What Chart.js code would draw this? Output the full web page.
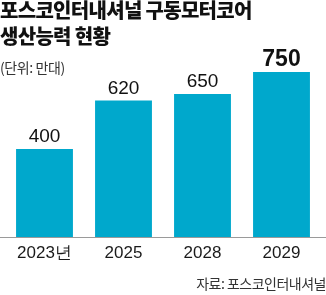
<!DOCTYPE html>
<html>
<head>
<meta charset="utf-8">
<script src="https://cdn.jsdelivr.net/npm/chart.js@4"></script>
<style>
  html, body { margin: 0; padding: 0; background: #fff; }
  #wrap { position: relative; width: 326px; height: 295px; overflow: hidden; }
  #chart { position: absolute; left: 0; top: 0; }
  .txt { position: absolute; font-family: "Noto Sans CJK KR", sans-serif; color: #1a1a1a; white-space: nowrap; }
  #title { left: 0; top: -3px; font-size: 20px; font-weight: 900; line-height: 26px; letter-spacing: -0.7px; color: #111; }
  #unit { left: 0; top: 58px; font-size: 14px; line-height: 18px; letter-spacing: -0.4px; color: #333; }
  #source { right: 0; top: 274px; font-size: 14px; line-height: 18px; letter-spacing: -0.5px; color: #333; }
</style>
</head>
<body>
<div id="wrap">
  <canvas id="chart" width="326" height="295"></canvas>
  <div class="txt" id="title">포스코인터내셔널 구동모터코어<br>생산능력 현황</div>
  <div class="txt" id="unit">(단위: 만대)</div>
  <div class="txt" id="source">자료: 포스코인터내셔널</div>
</div>
<script>
const years = ["2023년", "2025", "2028", "2029"];
const capacity = [400, 620, 650, 750];
const highlightIndex = 3;

const barColor = "#00a8cc";

// value labels above each bar, last one bold and larger
const valueLabels = {
    id: "valueLabels",
    afterDatasetsDraw(chart) {
        const ctx = chart.ctx;
        const meta = chart.getDatasetMeta(0);
        ctx.save();
        ctx.textAlign = "center";
        ctx.textBaseline = "alphabetic";
        ctx.fillStyle = "#111";
        meta.data.forEach((bar, i) => {
            if (i === highlightIndex) {
                ctx.font = "bold 23px 'Liberation Sans', Arial, sans-serif";
                ctx.fillText(capacity[i], bar.x, bar.y - 6);
            } else {
                ctx.font = "19px 'Liberation Sans', Arial, sans-serif";
                ctx.fillText(capacity[i], bar.x, bar.y - 7);
            }
        });
        ctx.restore();
    }
};

// baseline across the whole width
const baseLine = {
    id: "baseLine",
    afterDatasetsDraw(chart) {
        const ctx = chart.ctx;
        const y = Math.round(chart.scales.y.getPixelForValue(0)) + 0.5;
        ctx.save();
        ctx.strokeStyle = "#9a9a9a";
        ctx.lineWidth = 1;
        ctx.beginPath();
        ctx.moveTo(0, y);
        ctx.lineTo(chart.width, y);
        ctx.stroke();
        ctx.restore();
    }
};

new Chart(document.getElementById("chart"), {
    type: "bar",
    data: {
        labels: years,
        datasets: [{
            data: capacity,
            backgroundColor: barColor,
            borderWidth: 0,
            barPercentage: 0.72,
            categoryPercentage: 1
        }]
    },
    options: {
        responsive: false,
        animation: false,
        events: [],
        layout: { padding: { left: 5, right: 5, top: 61, bottom: 25.6 } },
        plugins: { legend: { display: false }, tooltip: { enabled: false } },
        scales: {
            x: {
                grid: { display: false, drawTicks: false },
                border: { display: false },
                ticks: {
                    color: "#1a1a1a",
                    padding: 6,
                    font: { family: "'Liberation Sans', Arial, sans-serif", size: 17 }
                }
            },
            y: {
                display: false,
                min: 0,
                max: 800
            }
        }
    },
    plugins: [valueLabels, baseLine]
});
</script>
</body>
</html>
